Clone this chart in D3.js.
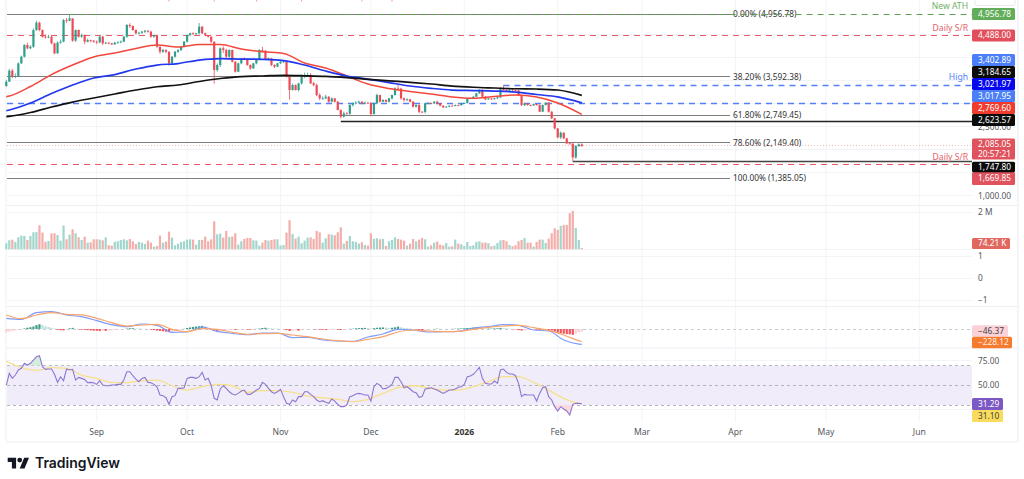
<!DOCTYPE html>
<html>
<head>
<meta charset="utf-8">
<script src="https://cdnjs.cloudflare.com/ajax/libs/d3/7.8.5/d3.min.js"></script>
<style>
  html, body { margin: 0; padding: 0; background: #fff; }
  svg { display: block; font-family: "Noto Sans", sans-serif; }
</style>
</head>
<body>
<svg id="chart" width="1024" height="479"></svg>
<script>
// Daily session data, counted in days from the first bar
const firstDay = new Date(2025, 7, 2);
const firstOpen = 3388;

const closes = [
  3483,3722,3591,3606,3882,4027,4281,4209,4245,4608,
  4768,4608,4463,4449,4463,4318,4100,4332,4354,4826,
  4810,4862,4376,4608,4463,4499,4354,4390,4376,4354,
  4340,4463,4318,4332,4318,4296,4332,4340,4354,4463,
  4717,4695,4608,4536,4550,4572,4594,4572,4463,4499,
  4245,4136,4173,4136,3882,4027,4136,4173,4245,4354,
  4499,4536,4522,4536,4681,4536,4499,4463,4354,3737,
  3846,4209,4173,4027,4173,3918,3700,3882,3991,3980,
  3846,3773,3882,3969,4173,4160,3969,3991,3846,3809,
  3882,3918,3925,3591,3301,3410,3301,3446,3591,3628,
  3628,3446,3410,3192,3119,3119,3155,3047,3119,3047,
  2865,2720,2792,2785,2974,3010,3025,3047,3010,3025,
  3018,2778,3010,3192,3047,3083,3047,3119,3192,3337,
  3330,3119,3083,3097,3047,2938,2974,2829,2822,3010,
  3018,3010,3047,3010,2959,2923,2938,2959,2955,2974,
  2970,3010,3018,3119,3125,3155,3228,3301,3155,3097,
  3119,3097,3119,3141,3337,3301,3286,3315,3301,3295,
  3192,2974,3010,2974,2965,2996,2974,2829,2974,3025,
  2829,2683,2465,2269,2371,2248,2139,2132,1834,2081,
  2117,2085.05
];
const highs = [
  3520,3760,3760,3660,3900,4050,4300,4330,4280,4640,
  4810,4790,4620,4510,4500,4480,4330,4360,4400,4850,
  4870,4956.78,4860,4620,4620,4530,4510,4420,4400,4390,
  4380,4480,4480,4350,4340,4330,4345,4360,4380,4480,
  4740,4755,4710,4620,4570,4590,4610,4600,4590,4510,
  4500,4250,4200,4190,4140,4040,4150,4190,4260,4370,
  4510,4550,4560,4550,4760,4690,4550,4480,4470,4360,
  3880,4230,4250,4200,4190,4180,3930,3900,4000,4010,
  3990,3860,3890,3980,4190,4240,4170,4010,4000,3860,
  3890,3930,3940,3930,3600,3440,3420,3460,3640,3680,
  3680,3670,3480,3440,3230,3160,3200,3170,3140,3130,
  3060,2880,2830,2820,2990,3030,3060,3070,3060,3050,
  3040,3030,3030,3220,3200,3100,3100,3130,3200,3360,
  3420,3350,3140,3120,3110,3060,2990,2990,2840,3020,
  3040,3030,3060,3070,3020,2970,2950,2965,2985,2985,
  2985,3020,3030,3130,3140,3170,3240,3320,3320,3170,
  3130,3120,3130,3150,3360,3402.89,3350,3330,3320,3310,
  3300,3200,3020,3020,2985,3005,3000,2985,2985,3040,
  3035,2840,2695,2475,2400,2380,2260,2160,2150,2100,
  2140,2140
];
const lows = [
  3370,3480,3560,3560,3590,3870,4010,4190,4190,4220,
  4590,4580,4440,4420,4430,4300,4080,4090,4310,4340,
  4760,4800,4350,4350,4440,4440,4300,4340,4340,4330,
  4300,4320,4280,4300,4295,4280,4285,4310,4320,4340,
  4440,4650,4590,4510,4510,4520,4540,4550,4440,4440,
  4220,4090,4110,4100,3830,3870,4010,4110,4150,4230,
  4340,4470,4500,4490,4510,4520,4470,4440,4320,3440,
  3700,3800,4110,3990,4000,3900,3680,3690,3860,3950,
  3830,3740,3760,3860,3950,4120,3950,3950,3820,3780,
  3800,3870,3890,3570,3090,3290,3290,3270,3420,3560,
  3580,3430,3380,3170,3080,3090,3100,3020,3030,3030,
  2860,2680,2700,2760,2760,2940,2990,3010,2990,2990,
  3000,2730,2770,2990,3030,3040,3030,3030,3090,3180,
  3300,3090,3050,3060,3030,2920,2920,2790,2800,2790,
  2990,2990,3000,2990,2945,2910,2915,2925,2945,2945,
  2955,2965,3000,3010,3105,3115,3150,3220,3140,3080,
  3090,3085,3100,3110,3130,3290,3280,3275,3280,3280,
  3180,2950,2950,2960,2950,2960,2960,2820,2820,2965,
  2810,2670,2440,2250,2230,2230,2120,2110,1747.8,1800,
  2060,2060
];
// Volume per bar, in thousands
const volumes = [
  322,483,519,394,644,734,716,501,716,913,
  931,1289,895,394,448,859,859,770,465,1271,
  537,788,1074,859,644,501,680,358,376,537,
  537,519,483,644,215,197,394,430,501,537,
  483,555,430,286,394,358,286,465,358,143,
  179,734,358,412,949,627,215,304,394,430,
  519,537,519,251,501,501,680,430,537,1504,
  806,841,627,985,662,680,859,251,430,555,
  609,609,483,465,197,358,501,465,501,537,
  537,197,233,895,1557,823,573,680,322,465,
  627,644,555,985,913,358,591,806,788,752,
  913,1181,304,448,716,430,394,304,376,233,
  197,859,555,591,537,555,179,430,501,644,
  555,519,465,197,304,555,430,519,609,537,
  143,215,358,412,251,215,340,143,161,519,
  304,269,179,394,179,215,394,430,358,358,
  322,161,197,340,483,501,430,233,161,215,
  430,501,609,358,358,143,394,519,519,340,
  573,859,1128,1038,1253,1307,1307,1933,2059,1146,
  501,74.21
];
// MACD histogram, one value per bar
const macdHist = [
  -60,-48,-38,-25,-18,-8,10,22,32,45,
  70,85,70,50,36,22,10,-15,-22,-25,
  -8,12,20,6,-8,-10,-15,-20,-26,-30,
  -32,-36,-30,-34,-28,-26,-18,-14,-10,-4,
  8,14,14,10,8,5,3,0,-12,-18,
  -28,-34,-42,-48,-58,-52,-35,-20,-10,3,
  18,28,38,44,50,55,48,20,-8,-30,
  -50,-38,-28,-22,-15,-12,-16,-12,-8,-5,
  -10,-12,-8,3,8,18,22,18,12,8,
  5,3,-3,-20,-35,-35,-28,-30,-8,-5,
  -3,-3,-4,-6,-12,-14,-16,-16,-12,-8,
  -12,-18,-8,-5,3,6,12,16,18,20,
  18,10,14,22,26,28,24,20,22,30,
  42,30,20,14,8,-2,-5,-18,-24,-12,
  -4,-2,2,6,4,2,-2,-2,3,6,
  8,12,14,18,20,24,30,20,10,6,
  8,8,10,14,20,16,14,8,-3,-8,
  -20,-28,-24,-20,-14,-8,-10,-16,-10,-6,
  -18,-30,-50,-68,-75,-85,-92,-95,-105,-80,
  -60,-46.37
];
// RSI, one value per bar
const rsiValues = [
  50.3,62.2,57.1,60.5,65.6,67.3,72.4,70.7,72.4,75.7,
  79.1,80.2,69,66.3,66.6,66.6,61.2,53,58.8,54.7,
  66.6,65.6,66.3,55.4,58.1,57.1,56.1,52.7,53,52.7,
  51,54.7,50.3,49.6,49.6,50.3,50.3,51,51,55.4,
  63.9,63.9,59.8,56.4,53.7,57.1,58.1,53,52.7,51,
  48.6,40.2,39.5,37.4,30.7,38.5,39.5,46.9,46.9,47.6,
  57.1,58.1,58.1,57.1,58.8,63.2,55.4,57.1,49.6,36.8,
  35.1,46.3,49.6,46.9,43.5,41.2,40.2,41.8,44.2,45.2,
  40.8,40.8,42.9,45.2,46.9,53,51,46.9,43.5,41.8,
  43.5,45.9,38.5,31.7,30.7,35.1,33.4,38.5,38.5,43.5,
  43.5,40.8,38.5,35.1,33.4,34.4,32.7,31.7,36.1,34,
  30.7,28.3,28.3,30,38.5,39.5,41.2,41.8,41.2,40.2,
  40.2,34,48.6,52,50.3,46.3,46.9,48.6,51,58.1,
  58.1,53.7,47.6,48.6,46.3,43.5,42.5,37.8,38.5,46.3,
  46.9,47.6,46.3,45.2,43.5,41.8,43.5,45.2,45.2,46.3,
  48,48.6,51,58.8,59.5,61.2,64.6,68.3,57.1,52,
  51.3,51.3,54.4,52,65.6,66.6,63.2,61.5,61.5,59.8,
  52,38.5,40.8,40.2,40.2,40.2,34,41.8,47.6,48.6,
  38.5,35.1,28.3,23.9,28.3,25.9,23.9,19.8,30.7,31.7,
  31.7,31.29
];

// Moving averages, sampled weekly
const maDays = [0,1,8,15,22,29,36,43,50,57,64,71,78,85,92,99,106,113,120,127,134,141,148,155,162,169,176,183,191];
const ema50 = [3155,3170,3377,3638,3845,4020,4107,4205,4281,4238,4292,4292,4194,4135,4096,3889,3780,3606,3431,3333,3268,3214,3148,3120,3159,3192,3148,3018,2769.6];
const ema100 = [2850,2865,3018,3225,3410,3562,3638,3758,3845,3878,3954,3987,3976,3969,3943,3845,3715,3606,3540,3464,3388,3338,3301,3290,3279,3257,3203,3150,3021.97];
const ema200 = [2722,2728,2811,2931,3039,3127,3214,3301,3373,3410,3486,3552,3595,3606,3621,3611,3597,3569,3534,3501,3469,3432,3388,3362,3345,3329,3323,3301,3184.65];

// Oscillator lines, sampled every five days
const oscDays = [0,5,10,15,20,25,30,35,40,45,50,55,60,65,70,75,80,85,90,95,100,105,110,115,120,125,130,135,140,145,150,155,160,165,170,175,180,185,190,191];
const macdLine = [192,174,294,312,252,222,150,78,42,90,66,-60,-54,36,-42,-78,-102,-72,-72,-156,-150,-198,-216,-222,-144,-90,-6,-18,-54,-48,-42,18,42,78,66,-18,-36,-198,-270,-274.49];
const macdSignal = [252,186,252,294,264,252,192,114,54,72,84,-6,-48,6,-6,-60,-96,-84,-78,-108,-138,-180,-210,-228,-186,-138,-54,-18,-36,-48,-42,-6,30,54,66,24,-24,-108,-210,-228.12];
const rsiAverage = [74.7,68,65.2,68,67.3,60.5,57.1,53,52.7,54.7,55.4,49.6,45.2,48.6,51,49.6,42.9,44.6,44.6,42.9,39.1,37.4,35.7,33.4,35.7,41.8,47.6,49.6,47.6,45.2,45.2,48.6,53.7,58.8,58.8,53,45.2,36.8,31.7,31.10];

// Chart drawings
const fibLevels = [4956.78, 3592.38, 2749.45, 2149.40, 1385.05];
const fibNames = ["0.00%", "38.20%", "61.80%", "78.60%", "100.00%"];
const athLevel = 4956.78;
const resistanceLevel = 4488;
const supportLevel = 1669.85;
const highLevel = 3402.89;
const lowerBlueLevel = 3017.95;
const thickLevels = [2623.57, 1747.80];
const thickStartDays = [111, 188];
const lastPrice = 2085.05;
const countdown = "20:57:21";
// Days whose annotations run off the top edge of the pane
const topMarkerDays = [54, 69, 83, 98, 118, 128];

const priceGrid = [1000, 1500, 2000, 2500, 3000, 3500, 4000, 4500];
const priceLabels = [1000, 2500, 4000];
const volumeTickValue = 2000;
const emptyPaneTicks = [1, 0, -1];
const rsiTicks = [75, 50, 25];
const monthDates = [[2025,8],[2025,9],[2025,10],[2025,11],[2026,0],[2026,1],[2026,2],[2026,3],[2026,4],[2026,5]];
const monthNames = ["Sep","Oct","Nov","Dec","2026","Feb","Mar","Apr","May","Jun"];

const up = "#2f9e8a", down = "#ee4a55";
const paneLeft = 7, paneRight = 972, frameRight = 1018;
const fibEnd = 730;

const x = d3.scaleTime()
  .domain([new Date(2025, 8, 1), new Date(2026, 5, 1)])
  .range([96.7, 919.3]);
const dayX = n => x(d3.timeDay.offset(firstDay, n));

const yPrice = d3.scaleLinear().domain([1385.05, 4956.78]).range([178, 14]);
const yVolume = d3.scaleLinear().domain([0, 2000]).range([249.3, 212]);
const yEmpty = d3.scaleLinear().domain([-1, 1]).range([300.5, 256]);
const yMacd = d3.scaleLinear().domain([-228.12, 0]).range([341.7, 329]);
const yRsi = d3.scaleLinear().domain([30, 70]).range([405, 365.7]);

// Snap a thin rule to the pixel grid so it stays crisp
const crisp = y => Math.floor(y) + 0.5;

const svg = d3.select("#chart");
const fmt2 = d3.format(",.2f");

// Pane separators and the outer frame
const frame = svg.append("g").attr("stroke", "#eef0f5").attr("fill", "none");
[205.5, 306.5, 348, 442].forEach(y => {
  frame.append("line").attr("x1", paneLeft - 1).attr("x2", frameRight).attr("y1", y).attr("y2", y).attr("stroke-width", 1.2);
});
frame.append("line").attr("x1", frameRight).attr("x2", frameRight).attr("y1", 0).attr("y2", 442).attr("stroke-width", 1.2);
frame.append("line").attr("x1", paneLeft - 1).attr("x2", paneLeft - 1).attr("y1", 0).attr("y2", 442).attr("stroke-width", 1);

// Grid
const grid = svg.append("g").attr("stroke", "#f3f4f8").attr("stroke-width", 1);
monthDates.forEach(([yr, mo]) => {
  grid.append("line").attr("x1", x(new Date(yr, mo, 1))).attr("x2", x(new Date(yr, mo, 1))).attr("y1", 0).attr("y2", 422);
});
const hGrid = [
  ...priceGrid.map(d => yPrice(d)),
  yVolume(volumeTickValue), yVolume(0),
  ...emptyPaneTicks.map(d => yEmpty(d)),
  ...rsiTicks.map(d => yRsi(d))
];
hGrid.forEach(y => grid.append("line").attr("x1", paneLeft).attr("x2", paneRight).attr("y1", crisp(y)).attr("y2", crisp(y)));

// Fibonacci levels
const fib = svg.append("g");
fibLevels.forEach((p, i) => {
  fib.append("line").attr("x1", paneLeft).attr("x2", fibEnd).attr("y1", crisp(yPrice(p))).attr("y2", crisp(yPrice(p)))
    .attr("stroke", "#7d7d7d").attr("stroke-width", 1);
  fib.append("text").attr("x", fibEnd + 3).attr("y", yPrice(p)).attr("dy", "0.35em")
    .attr("font-size", 8.3).attr("fill", "#333")
    .text(`${fibNames[i]} (${fmt2(p)})`);
});

// Annotation ticks clipped by the top edge
svg.append("g").selectAll("line").data(topMarkerDays).join("line")
  .attr("x1", d => dayX(d)).attr("x2", d => dayX(d)).attr("y1", 0).attr("y2", 1.5)
  .attr("stroke", "#f29aa0").attr("stroke-width", 1);

// Horizontal level lines
function level(price, startX, color, width, dash) {
  svg.append("line").attr("x1", startX).attr("x2", paneRight).attr("y1", crisp(yPrice(price))).attr("y2", crisp(yPrice(price)))
    .attr("stroke", color).attr("stroke-width", width).attr("stroke-dasharray", dash);
}
level(athLevel, dayX(21), "#5fa052", 1.2, "6,5");
level(resistanceLevel, paneLeft, "#ec5c66", 1.2, "6,5");
level(highLevel, dayX(165), "#5580f8", 1.4, "6,5");
level(lowerBlueLevel, paneLeft, "#5580f8", 1.4, "6,5");
level(supportLevel, paneLeft, "#ee5661", 1.2, "6,5");
level(lastPrice, paneLeft, "#f2a6ab", 0.8, "1,2");
thickLevels.forEach((p, i) => level(p, dayX(thickStartDays[i]), i ? "#444" : "#222", 1.7, null));

// Candles
const bars = closes.map((c, i) => ({
  i, c, o: i ? closes[i - 1] : firstOpen, h: highs[i], l: lows[i]
}));
const candleGroup = svg.append("g");
candleGroup.selectAll("line").data(bars).join("line")
  .attr("x1", d => dayX(d.i)).attr("x2", d => dayX(d.i))
  .attr("y1", d => yPrice(d.h)).attr("y2", d => yPrice(d.l))
  .attr("stroke", d => d.c >= d.o ? up : down).attr("stroke-width", 0.8);
candleGroup.selectAll("rect").data(bars).join("rect")
  .attr("x", d => dayX(d.i) - 1.1).attr("width", 2.2)
  .attr("y", d => Math.min(yPrice(d.o), yPrice(d.c)))
  .attr("height", d => Math.max(0.8, Math.abs(yPrice(d.o) - yPrice(d.c))))
  .attr("fill", d => d.c >= d.o ? up : down);

// Moving averages on top of the candles
function maLine(values, color, width) {
  const line = d3.line().x((_, i) => dayX(maDays[i])).y(d => yPrice(d)).curve(d3.curveMonotoneX);
  svg.append("path").attr("d", line(values)).attr("fill", "none")
    .attr("stroke", color).attr("stroke-width", width);
}
maLine(ema50, "#f2483c", 1.5);
maLine(ema100, "#2238ee", 1.7);
maLine(ema200, "#111", 1.7);

// Volume pane
svg.append("g").selectAll("rect").data(volumes).join("rect")
  .attr("x", (_, i) => dayX(i) - 1.1).attr("width", 2.2)
  .attr("y", d => yVolume(d))
  .attr("height", d => yVolume(0) - yVolume(d))
  .attr("fill", (_, i) => bars[i].c >= bars[i].o ? "#a1d6cd" : "#f3aeaa");

// MACD pane
svg.append("line").attr("x1", paneLeft).attr("x2", paneRight).attr("y1", crisp(yMacd(0))).attr("y2", crisp(yMacd(0)))
  .attr("stroke", "#c9cbd2").attr("stroke-dasharray", "3,3");
svg.append("g").selectAll("rect").data(macdHist).join("rect")
  .attr("x", (_, i) => dayX(i) - 1.1).attr("width", 2.2)
  .attr("y", d => Math.min(yMacd(d), yMacd(0)))
  .attr("height", d => Math.abs(yMacd(d) - yMacd(0)))
  .attr("fill", (d, i) => {
    const rising = i === 0 || d >= macdHist[i - 1];
    if (d >= 0) return rising ? "#3b9c89" : "#b7e0da";
    return rising ? "#fbd0d4" : "#f2535c";
  });
const oscLine = scale => d3.line().x((_, i) => dayX(oscDays[i])).y(d => scale(d)).curve(d3.curveMonotoneX);
svg.append("path").attr("d", oscLine(yMacd)(macdLine)).attr("fill", "none").attr("stroke", "#7f9bfb").attr("stroke-width", 1.2);
svg.append("path").attr("d", oscLine(yMacd)(macdSignal)).attr("fill", "none").attr("stroke", "#f9a56b").attr("stroke-width", 1.2);

// RSI pane
svg.append("rect").attr("x", paneLeft).attr("width", paneRight - paneLeft)
  .attr("y", yRsi(70)).attr("height", yRsi(30) - yRsi(70)).attr("fill", "#f1ecf9");
[70, 50, 30].forEach(v => {
  svg.append("line").attr("x1", paneLeft).attr("x2", paneRight).attr("y1", crisp(yRsi(v))).attr("y2", crisp(yRsi(v)))
    .attr("stroke", "#b4b3bb").attr("stroke-width", 1).attr("stroke-dasharray", "3,3");
});
const defs = svg.append("defs");
defs.append("clipPath").attr("id", "rsiAbove").append("rect")
  .attr("x", 0).attr("width", 1024).attr("y", 0).attr("height", yRsi(70));
defs.append("clipPath").attr("id", "rsiBelow").append("rect")
  .attr("x", 0).attr("width", 1024).attr("y", yRsi(30)).attr("height", 100);
const rsiArea = base => d3.area().x((_, i) => dayX(i)).y0(yRsi(base)).y1(d => yRsi(d));
svg.append("path").attr("d", rsiArea(70)(rsiValues)).attr("clip-path", "url(#rsiAbove)").attr("fill", "#d3eedd");
svg.append("path").attr("d", rsiArea(30)(rsiValues)).attr("clip-path", "url(#rsiBelow)").attr("fill", "#fadadd");
svg.append("path").attr("d", oscLine(yRsi)(rsiAverage)).attr("fill", "none").attr("stroke", "#f6e08f").attr("stroke-width", 1.3);
svg.append("path").attr("d", d3.line().x((_, i) => dayX(i)).y(d => yRsi(d))(rsiValues))
  .attr("fill", "none").attr("stroke", "#8d76d2").attr("stroke-width", 1.1);

// Scale labels
const axisText = "#555861";
function scaleLabel(txt, y, startX = 978) {
  svg.append("text").attr("x", startX).attr("y", y).attr("dy", "0.35em")
    .attr("font-size", 8.3).attr("fill", axisText).text(txt);
}
priceLabels.forEach(p => scaleLabel(fmt2(p), yPrice(p)));
scaleLabel("2 M", yVolume(volumeTickValue));
emptyPaneTicks.forEach(v => scaleLabel(v < 0 ? "\u2212" + Math.abs(v) : String(v), yEmpty(v)));
scaleLabel(fmt2(75), yRsi(75));
scaleLabel(fmt2(50), yRsi(50));

// Outlined tag that runs off the top of the scale
svg.append("rect").attr("x", 975).attr("y", -6).attr("width", 40).attr("height", 11.5).attr("rx", 2)
  .attr("fill", "#fff").attr("stroke", "#e8e9ee");

// Value tags on the scale, stacked so they do not collide
function tag(lines, centerY, fill, textFill, width = 43, rowH = 12) {
  const h = rowH * lines.length;
  svg.append("rect").attr("x", paneRight).attr("y", centerY - h / 2).attr("width", width).attr("height", h)
    .attr("rx", 1.5).attr("fill", fill);
  lines.forEach((t, i) => {
    svg.append("text").attr("x", paneRight + 6).attr("y", centerY - h / 2 + rowH * i + rowH / 2).attr("dy", "0.35em")
      .attr("font-size", 8.3).attr("fill", textFill).text(t);
  });
}
tag([fmt2(athLevel)], yPrice(athLevel), "#62ad5a", "#fff");
tag([fmt2(resistanceLevel)], yPrice(resistanceLevel), "#e24f5b", "#fff");
tag([fmt2(highLevel)], 60, "#4a7ff8", "#fff");
tag([fmt2(ema200[ema200.length - 1])], 72, "#0b0b0b", "#fff");
tag([fmt2(ema100[ema100.length - 1])], 84, "#0808ee", "#fff");
tag([fmt2(lowerBlueLevel)], 96, "#4a7ff8", "#fff");
tag([fmt2(ema50[ema50.length - 1])], 108, "#f23b2f", "#fff");
tag([fmt2(thickLevels[0])], 120, "#0b0b0b", "#fff");
tag([fmt2(lastPrice), countdown], 149, "#e0525d", "#fff", 43, 10.5);
tag([fmt2(supportLevel)], 178.5, "#e0525d", "#fff", 43, 13);
tag([fmt2(thickLevels[1])], 167, "#0b0b0b", "#fff", 43, 10.5);
tag(["74.21 K"], 243.5, "#e0685f", "#fff", 38, 11);
tag(["\u2212" + Math.abs(macdHist[macdHist.length - 1]).toFixed(2)], 331, "#fbd2d8", "#444", 36, 11.5);
tag(["\u2212" + Math.abs(macdSignal[macdSignal.length - 1]).toFixed(2)], 342.5, "#f47b30", "#ffeee2", 40, 11.5);
tag([rsiValues[rsiValues.length - 1].toFixed(2)], 404, "#7c58c4", "#fff", 31);
tag([rsiAverage[rsiAverage.length - 1].toFixed(2)], 416, "#f9dc5c", "#444", 31);

// Level captions at the right edge of the pane
function caption(txt, y, color) {
  svg.append("text").attr("x", 968).attr("y", y).attr("dy", "0.35em").attr("text-anchor", "end")
    .attr("font-size", 8.6).attr("fill", color).text(txt);
}
caption("New ATH", 5.5, "#72b267");
caption("Daily S/R", 27.5, "#e5606a");
caption("High", 77, "#5580f8");
caption("Daily S/R", 157, "#e5606a");

// Time axis
monthDates.forEach(([yr, mo], i) => {
  svg.append("text").attr("x", x(new Date(yr, mo, 1))).attr("y", 432).attr("dy", "0.35em")
    .attr("text-anchor", "middle").attr("font-size", 8.6)
    .attr("font-weight", monthNames[i] === "2026" ? 700 : 400)
    .attr("fill", monthNames[i] === "2026" ? "#333" : axisText).text(monthNames[i]);
});

// Brand mark
const brand = svg.append("g").attr("transform", "translate(7.7,455.3) scale(0.6)").attr("fill", "#131722");
brand.append("path").attr("d", "M14 22H7V11H0V4h14v18zM28 22h-8l7.5-18h8L28 22z");
brand.append("circle").attr("cx", 20).attr("cy", 8).attr("r", 4);
svg.append("text").attr("x", 35).attr("y", 468).attr("font-family", "Inter, sans-serif")
  .attr("font-size", 14.5).attr("font-weight", 600).attr("fill", "#131722")
  .attr("textLength", 85).attr("lengthAdjust", "spacingAndGlyphs").text("TradingView");
</script>
</body>
</html>
